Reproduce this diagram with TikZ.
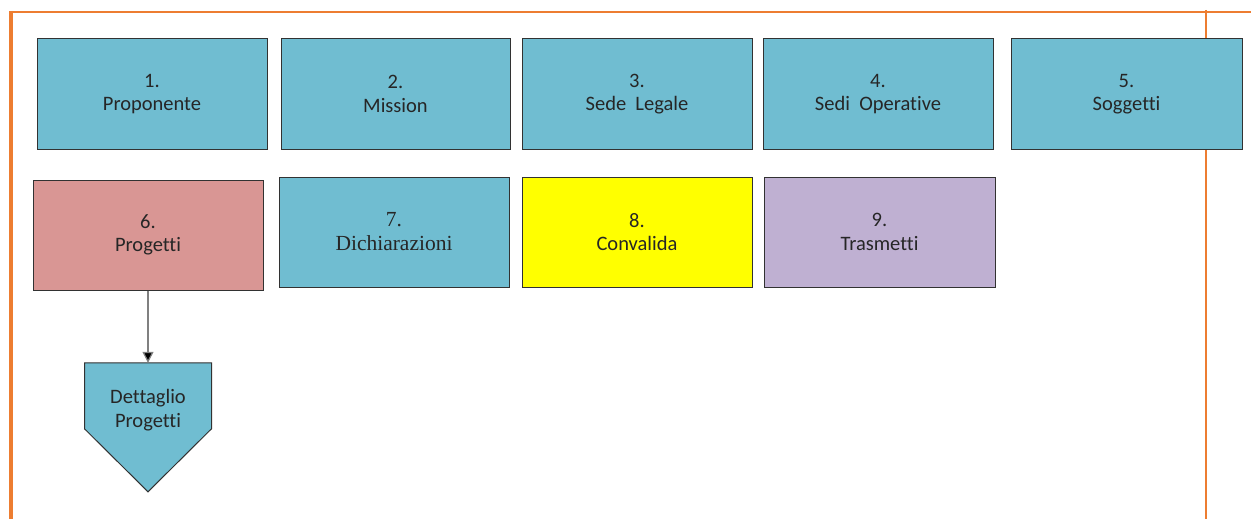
\documentclass[tikz,border=0pt]{standalone}
\usepackage{fontspec}
\setmainfont{Carlito}[Ligatures=NoCommon]
\newfontfamily\serifx{Liberation Serif}
\usetikzlibrary{arrows.meta,backgrounds}
\definecolor{teal1}{RGB}{112,189,209}
\definecolor{pink1}{RGB}{217,150,148}
\definecolor{yel1}{RGB}{255,255,0}
\definecolor{lav1}{RGB}{191,176,210}
\definecolor{orng}{RGB}{237,125,49}
\definecolor{edge1}{RGB}{50,50,50}
\definecolor{txt1}{RGB}{38,38,38}
\begin{document}
\begin{tikzpicture}[x=1pt,y=-1pt,
  card/.style={draw=edge1,line width=1pt,rectangle,minimum height=110pt,minimum width=230pt,
    align=center,text=txt1,font=\fontsize{20.5}{23.5}\selectfont,inner sep=0pt},
  tealc/.style={card,fill=teal1},
  frame/.style={draw=orng}]
\useasboundingbox (0,0) rectangle (1251,519);
% frame
\draw[frame,line width=3.5pt] (11,11) -- (11,519);
\draw[frame,line width=2pt] (10,12) -- (1251,12);
\draw[frame,line width=2.2pt] (1206,10) -- (1206,519);
% row 1
\node[tealc] (n1) at (152,94) {1.\\Proponente};
\node[tealc,minimum width=229pt] (n2) at (395.5,94) {2.\\Mission};
\node[tealc] (n3) at (637,94) {3.\\Sede\hspace{0.45em}Legale};
\node[tealc] (n4) at (878,94) {4.\\Sedi\hspace{0.45em}Operative};
\node[tealc,minimum width=231pt] (n5) at (1126.5,94) {5.\\Soggetti};
% row 2
\node[card,fill=pink1] (n6) at (148,235) {6.\\Progetti};
\node[tealc,font=\serifx\fontsize{21.5}{24}\selectfont] (n7) at (394,232) {7.\\Dichiarazioni};
\node[card,fill=yel1] (n8) at (637,232) {8.\\Convalida};
\node[card,fill=lav1,minimum width=231pt] (n9) at (879.5,232) {9.\\Trasmetti};
% pentagon
\node[align=center,text=txt1,font=\fontsize{20.5}{23.5}\selectfont,minimum width=127pt,minimum height=94pt,inner sep=0pt] (dp) at (148,410) {Dettaglio\\Progetti};
\begin{scope}[on background layer]
\draw[draw=edge1,line width=1pt,fill=teal1] ([xshift=-63.5pt]dp.north) -- ([xshift=63.5pt]dp.north) -- ([xshift=63.5pt,yshift=-66pt]dp.north) -- ([yshift=-129pt]dp.north) -- ([xshift=-63.5pt,yshift=-66pt]dp.north) -- cycle;
\end{scope}
\draw[draw=gray,line width=1.2pt,-{Triangle[length=11pt,width=11pt,fill=black]}] (n6.south) -- (dp.north);
\end{tikzpicture}
\end{document}
